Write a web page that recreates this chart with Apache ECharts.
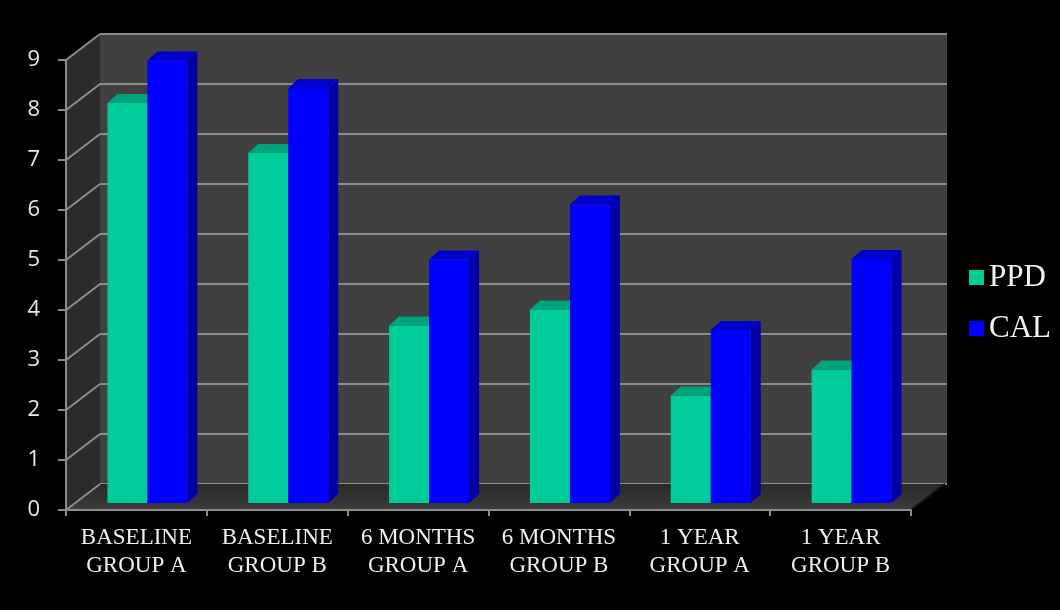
<!DOCTYPE html>
<html>
<head>
<meta charset="utf-8">
<script src="https://cdn.jsdelivr.net/npm/echarts@6/dist/echarts.min.js"></script>
<style>
  html, body { margin: 0; padding: 0; background: #000; }
  #chart { width: 1060px; height: 610px; }
</style>
</head>
<body>
<div id="chart"></div>
<script>
// ---- data ----
const categories = ['BASELINE\nGROUP A', 'BASELINE\nGROUP B', '6 MONTHS\nGROUP A', '6 MONTHS\nGROUP B', '1 YEAR\nGROUP A', '1 YEAR\nGROUP B'];
const ppdValues = [8.0, 7.0, 3.55, 3.87, 2.15, 2.67];
const calValues = [8.85, 8.3, 4.87, 5.97, 3.46, 4.88];
const yTicks = [0, 1, 2, 3, 4, 5, 6, 7, 8, 9];
const seriesNames = ['PPD', 'CAL'];

// ---- style constants ----
const DEPTH_X = 34, DEPTH_Y = -26;    // wall depth offset
const BAR_DX = 10, BAR_DY = -9;        // bar depth offset
const BAR_W = 40;
const GRID_LINE = '#8c8c8c';

const chart = echarts.init(document.getElementById('chart'), null, { renderer: 'canvas' });

function boxRenderer(side, colors) {
  return function (params, api) {
    const cat = api.value(0), v = api.value(1);
    const base = api.coord([cat, 0]);
    const top = api.coord([cat, v]);
    const x0 = side < 0 ? base[0] - BAR_W : base[0];
    const x1 = x0 + BAR_W;
    const yt = top[1], yb = base[1];
    return {
      type: 'group',
      children: [
        { type: 'polygon', shape: { points: [[x1, yt], [x1 + BAR_DX, yt + BAR_DY], [x1 + BAR_DX, yb + BAR_DY], [x1, yb]] }, style: { fill: colors.side } },
        { type: 'rect', shape: { x: x0, y: yt, width: BAR_W, height: yb - yt }, style: { fill: colors.front } },
        { type: 'polygon', shape: { points: [[x0, yt], [x1, yt], [x1 + BAR_DX, yt + BAR_DY], [x0 + BAR_DX, yt + BAR_DY]] }, style: { fill: colors.top } }
      ]
    };
  };
}

const option = {
  backgroundColor: '#000000',
  animation: false,
  legend: {
    orient: 'vertical',
    left: 969,
    top: 262,
    itemWidth: 15,
    itemHeight: 15,
    itemGap: 20,
    padding: 0,
    textStyle: { fontFamily: 'Liberation Serif', fontSize: 31, color: '#f2f2f2' },
    data: [
      { name: seriesNames[0], icon: 'rect', itemStyle: { color: '#00CC99' } },
      { name: seriesNames[1], icon: 'rect', itemStyle: { color: '#0000FF' } }
    ]
  },
  grid: [
    { left: 66, right: 149, top: 60, bottom: 100 },                         // front axes
    { left: 100, right: 113, top: 34, bottom: 126, show: true, backgroundColor: '#404040', borderWidth: 0 }, // back wall
    { left: 77, right: 138, top: 53, bottom: 107 }                          // bars
  ],
  xAxis: [
    {
      gridIndex: 0, type: 'category', data: categories, boundaryGap: true,
      axisLine: { lineStyle: { color: GRID_LINE, width: 2 } },
      axisTick: { show: true, length: 6, lineStyle: { color: GRID_LINE, width: 2 } },
      axisLabel: { color: '#f0f0f0', fontFamily: 'Liberation Serif', fontSize: 23, lineHeight: 28, margin: 14, interval: 0 },
      z: 10
    },
    { gridIndex: 1, type: 'category', data: categories, show: false },
    { gridIndex: 2, type: 'category', data: categories, show: false }
  ],
  yAxis: [
    {
      gridIndex: 0, type: 'value', min: 0, max: 9, interval: 1,
      axisLine: { show: true, lineStyle: { color: GRID_LINE, width: 2 } },
      axisTick: { show: true, length: 8, lineStyle: { color: GRID_LINE, width: 2 } },
      axisLabel: { color: '#e8e8e8', fontFamily: 'Open Sans', fontSize: 22, margin: 26 },
      splitLine: { show: false },
      z: 10
    },
    {
      gridIndex: 1, type: 'value', min: 0, max: 9, interval: 1,
      axisLine: { show: false }, axisTick: { show: false }, axisLabel: { show: false },
      splitLine: { show: true, lineStyle: { color: GRID_LINE, width: 2 } }
    },
    { gridIndex: 2, type: 'value', min: 0, max: 9, interval: 1, show: false, splitLine: { show: false } }
  ],
  series: [
    {
      // left side wall with depth grid lines, and floor
      type: 'custom', name: 'walls', xAxisIndex: 0, yAxisIndex: 0, z: 1, silent: true,
      data: yTicks.map(t => [0, t]),
      renderItem: function (params, api) {
        const cs = params.coordSys;
        const y = api.coord([0, api.value(1)])[1];
        const children = [];
        if (params.dataIndex === 0) {
          const xl = cs.x, xr = cs.x + cs.width, yb = cs.y + cs.height, yt = cs.y;
          children.push({ type: 'polygon', shape: { points: [[xl, yb], [xl, yt], [xl + DEPTH_X, yt + DEPTH_Y], [xl + DEPTH_X, yb + DEPTH_Y]] }, style: { fill: '#2b2b2b' } });
          children.push({ type: 'polygon', shape: { points: [[xl, yb], [xr, yb], [xr + DEPTH_X, yb + DEPTH_Y], [xl + DEPTH_X, yb + DEPTH_Y]] },
            style: { fill: new echarts.graphic.LinearGradient(0, 0, 0, 1, [{ offset: 0, color: '#2a2a2a' }, { offset: 0.75, color: '#363636' }, { offset: 1, color: '#404040' }]) } });
          children.push({ type: 'line', shape: { x1: xr, y1: yb, x2: xr + DEPTH_X, y2: yb + DEPTH_Y }, style: { stroke: '#111', lineWidth: 2 } });
        }
        children.push({ type: 'line', shape: { x1: cs.x, y1: y, x2: cs.x + DEPTH_X, y2: y + DEPTH_Y }, style: { stroke: GRID_LINE, lineWidth: 2 } });
        return { type: 'group', children: children };
      }
    },
    {
      type: 'custom', name: seriesNames[0], xAxisIndex: 2, yAxisIndex: 2, z: 3,
      itemStyle: { color: '#00CC99' },
      data: ppdValues.map((v, i) => [i, v]),
      renderItem: boxRenderer(-1, { front: '#00CC99', side: '#00996f', top: '#00a47c' })
    },
    {
      type: 'custom', name: seriesNames[1], xAxisIndex: 2, yAxisIndex: 2, z: 4,
      itemStyle: { color: '#0000FF' },
      data: calValues.map((v, i) => [i, v]),
      renderItem: boxRenderer(1, { front: '#0000FF', side: '#0000A6', top: '#0000CC' })
    }
  ]
};
chart.setOption(option);
</script>
</body>
</html>
